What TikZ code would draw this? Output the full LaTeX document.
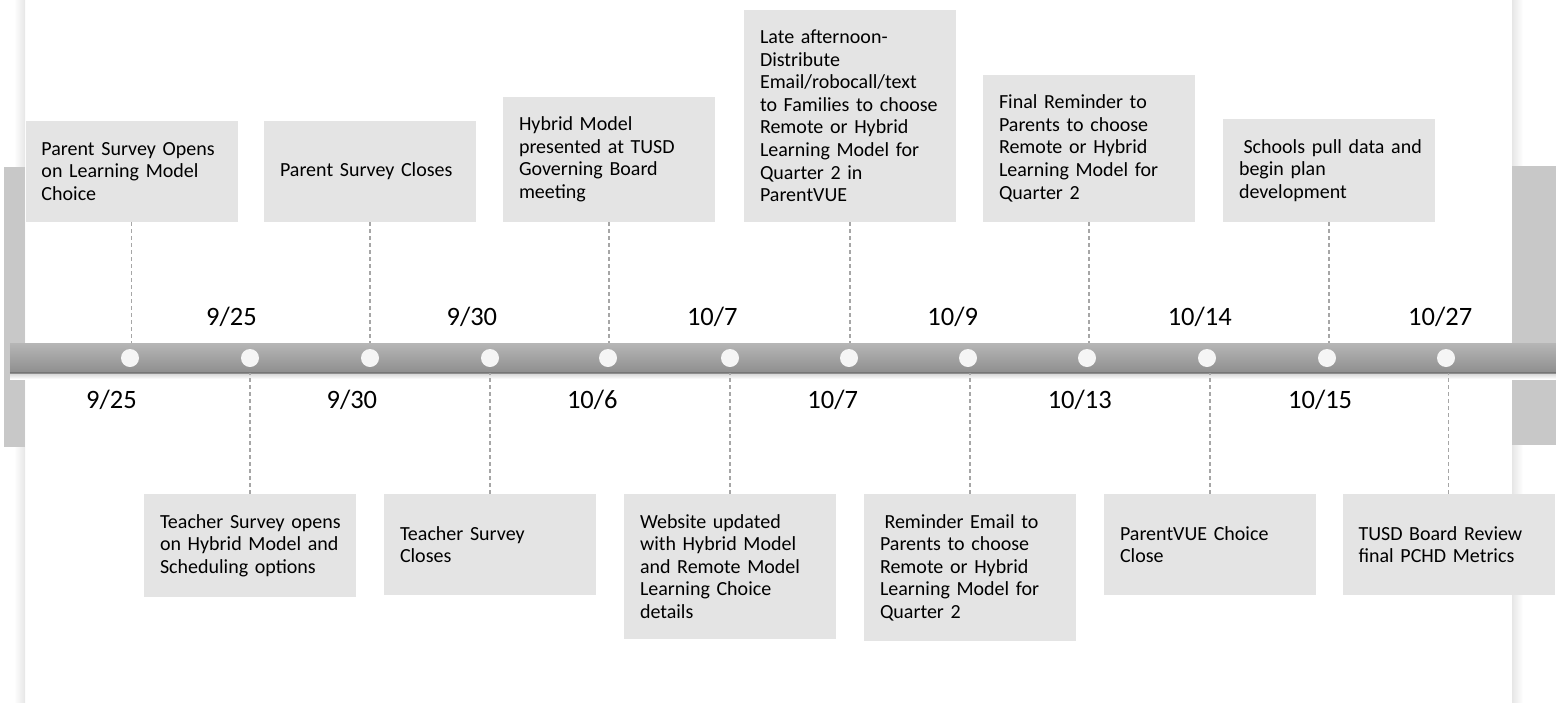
\documentclass[tikz,border=0pt]{standalone}
\usepackage{fontspec}
\setmainfont{Carlito}
\definecolor{boxgray}{RGB}{228,228,228}
\definecolor{sidegray}{RGB}{200,200,200}
\definecolor{edgegray}{RGB}{230,230,230}
\definecolor{bartop}{RGB}{182,182,182}
\definecolor{barbottom}{RGB}{142,142,142}
\definecolor{baredge}{RGB}{118,118,118}
\definecolor{dotwhite}{RGB}{245,245,245}
\definecolor{tickgray}{RGB}{166,166,166}
\tikzset{
  event/.style={fill=boxgray, text width=180pt, inner xsep=16pt, inner ysep=20pt,
    minimum height=101pt, align=left, font=\fontsize{20}{22.6}\selectfont},
  dot/.style={circle, fill=dotwhite, minimum size=18pt, inner sep=0pt},
  datelabel/.style={inner sep=0pt, anchor=base west, font=\fontsize{26.5}{30}\selectfont},
  tick/.style={draw=tickgray, line width=1.1pt, dash pattern=on 4pt off 3pt},
  axisbar/.style={top color=bartop, bottom color=barbottom, minimum width=1546pt,
    minimum height=30pt, inner sep=0pt}
}
\begin{document}
\begin{tikzpicture}[x=1pt,y=-1pt]
  \useasboundingbox (0,0) rectangle (1556,702);

  % page edges and side bars
  \shade[left color=white, right color=edgegray] (14,0) rectangle (25,702);
  \shade[left color=edgegray, right color=white] (1512,0) rectangle (1523,702);
  \fill[sidegray] (4,167) rectangle (25,447);
  \fill[sidegray] (1512,166) rectangle (1556,445);

  % timeline bar
  \shade[top color=gray!35, bottom color=white] (10,373) rectangle (1556,379);
  \node[axisbar] (axis) at (783,358) {};
  \draw[baredge, line width=1.5pt] ([yshift=0.75pt]axis.south west) -- ([yshift=0.75pt]axis.south east);

  % dots
  \node[dot] (d1) at (130,358) {};
  \node[dot] (d2) at (250,358) {};
  \node[dot] (d3) at (370,358) {};
  \node[dot] (d4) at (490,358) {};
  \node[dot] (d5) at (608,358) {};
  \node[dot] (d6) at (730,358) {};
  \node[dot] (d7) at (849,358) {};
  \node[dot] (d8) at (968,358) {};
  \node[dot] (d9) at (1087,358) {};
  \node[dot] (d10) at (1207,358) {};
  \node[dot] (d11) at (1327,358) {};
  \node[dot] (d12) at (1446,358) {};

  % events above the line
  \node[event, anchor=south] (psopen) at (131.5,222) {Parent Survey Opens\\on Learning Model\\Choice};
  \node[event, anchor=south] (psclose) at (370,222) {Parent Survey Closes};
  \node[event, anchor=south] (board) at (609,222) {Hybrid Model\\presented at TUSD\\Governing Board\\meeting};
  \node[event, anchor=south] (notify) at (850,222) {Late afternoon-\\Distribute\\Email/robocall/text\\to Families to choose\\Remote or Hybrid\\Learning Model for\\Quarter 2 in\\ParentVUE};
  \node[event, anchor=south] (final) at (1089,222) {Final Reminder to\\Parents to choose\\Remote or Hybrid\\Learning Model for\\Quarter 2};
  \node[event, anchor=south] (schools) at (1329,222) {\mbox{\hspace*{4.5pt}Schools pull data and}\\begin plan\\development};

  % events below the line
  \node[event, anchor=north] (tsopen) at (250,494) {\mbox{Teacher Survey opens}\\on Hybrid Model and\\Scheduling options};
  \node[event, anchor=north] (tsclose) at (490,494) {Teacher Survey\\Closes};
  \node[event, anchor=north] (website) at (730,494) {Website updated\\with Hybrid Model\\and Remote Model\\Learning Choice\\details};
  \node[event, anchor=north] (remind) at (970,494) {\hspace*{4.5pt}Reminder Email to\\Parents to choose\\Remote or Hybrid\\Learning Model for\\Quarter 2};
  \node[event, anchor=north] (choiceclose) at (1210,494) {ParentVUE Choice\\Close};
  \node[event, anchor=north] (review) at (1448.5,494) {TUSD Board Review\\final PCHD Metrics};

  % dashed ticks
  \draw[tick] (psopen.south) -- (psopen.south |- axis.north);
  \draw[tick] (psclose.south) -- (psclose.south |- axis.north);
  \draw[tick] (board.south) -- (board.south |- axis.north);
  \draw[tick] (notify.south) -- (notify.south |- axis.north);
  \draw[tick] (final.south) -- (final.south |- axis.north);
  \draw[tick] (schools.south) -- (schools.south |- axis.north);
  \draw[tick] (tsopen.north) -- (tsopen.north |- axis.south);
  \draw[tick] (tsclose.north) -- (tsclose.north |- axis.south);
  \draw[tick] (website.north) -- (website.north |- axis.south);
  \draw[tick] (remind.north) -- (remind.north |- axis.south);
  \draw[tick] (choiceclose.north) -- (choiceclose.north |- axis.south);
  \draw[tick] (review.north) -- (review.north |- axis.south);

  % dates above the line
  \node[datelabel] (a1) at (206,325) {9/25};
  \node[datelabel] (a2) at (446.4,325) {9/30};
  \node[datelabel] (a3) at (686.8,325) {10/7};
  \node[datelabel] (a4) at (927.2,325) {10/9};
  \node[datelabel] (a5) at (1167.6,325) {10/14};
  \node[datelabel] (a6) at (1408,325) {10/27};

  % dates below the line
  \node[datelabel] (b1) at (86,408) {9/25};
  \node[datelabel] (b2) at (326.4,408) {9/30};
  \node[datelabel] (b3) at (566.8,408) {10/6};
  \node[datelabel] (b4) at (807.2,408) {10/7};
  \node[datelabel] (b5) at (1047.6,408) {10/13};
  \node[datelabel] (b6) at (1288,408) {10/15};
\end{tikzpicture}
\end{document}
